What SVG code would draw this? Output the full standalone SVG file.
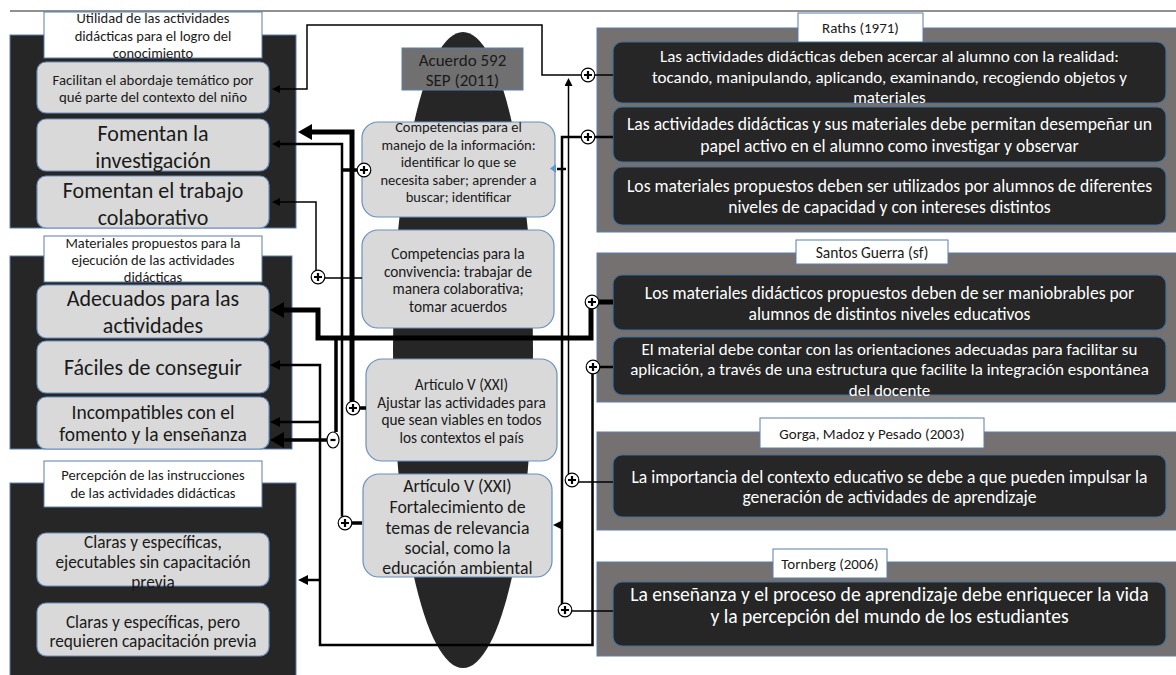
<svg xmlns="http://www.w3.org/2000/svg" width="1176" height="675" viewBox="0 0 1176 675">
  <style>
    text { font-family: Carlito, Lato, "Liberation Sans", sans-serif; text-anchor: middle; fill: #1a1a1a; }
    .panel { fill: #262626; stroke: #5a7fae; stroke-width: 1; }
    .title { fill: #ffffff; stroke: #5a7fae; stroke-width: 1; }
    .node { fill: #d9d9d9; stroke: #6b8fbf; stroke-width: 1.2; }
    .rpanel { fill: #767171; stroke: #5a7fae; stroke-width: 1; }
    .rnode { fill: #262626; stroke: #41719c; stroke-width: 1.2; }
    .rnode-t { fill: #ffffff; }
    .hub { fill: #707070; stroke: #5a7fae; stroke-width: 1; }
    .w1 { fill: none; stroke: #000; stroke-width: 1.5; }
    .w2 { fill: none; stroke: #000; stroke-width: 2.5; }
    .w3 { fill: none; stroke: #000; stroke-width: 3.5; }
    .w5 { fill: none; stroke: #000; stroke-width: 5; }
  </style>
  <defs>
    <marker id="aS" markerUnits="userSpaceOnUse" viewBox="0 0 8 8" markerWidth="8" markerHeight="8" refX="0" refY="4" orient="auto">
      <path d="M0,0 L8,4 L0,8z" fill="#000"/>
    </marker>
    <marker id="aM" markerUnits="userSpaceOnUse" viewBox="0 0 10 10" markerWidth="10" markerHeight="10" refX="0" refY="5" orient="auto">
      <path d="M0,0 L10,5 L0,10z" fill="#000"/>
    </marker>
    <marker id="aL" markerUnits="userSpaceOnUse" viewBox="0 0 14 16" markerWidth="14" markerHeight="16" refX="0" refY="8" orient="auto">
      <path d="M0,0 L14,8 L0,16z" fill="#000"/>
    </marker>
    <!-- positive-influence badge -->
    <g id="plus">
      <circle r="6.8" fill="#ffffff" stroke="#000" stroke-width="1.2"/>
      <path d="M-4,0 H4 M0,-4 V4" stroke="#000" stroke-width="2.2" fill="none"/>
    </g>
    <!-- negative-influence badge -->
    <g id="minus">
      <ellipse rx="6" ry="8" fill="#ffffff" stroke="#000" stroke-width="1.2"/>
      <path d="M-2.5,0 H2.5" stroke="#000" stroke-width="2.2" fill="none"/>
    </g>
  </defs>

  <rect width="1176" height="675" fill="#ffffff"/>
  <line x1="10" y1="11" x2="1176" y2="11" stroke="#222" stroke-width="1"/>

  <!-- central spindle -->
  <ellipse cx="463" cy="350" rx="70" ry="318" fill="#262626"/>

  <!-- left column -->
  <g id="utilidad">
    <rect class="panel" x="10" y="35" width="286" height="193"/>
    <rect class="title" x="44" y="12" width="218" height="46"/>
    <text font-size="14.5"><tspan x="153" y="23">Utilidad de las actividades</tspan><tspan x="153" y="41">didácticas para el logro del</tspan><tspan x="153" y="58">conocimiento</tspan></text>
  </g>
  <g id="facilitan">
    <rect class="node" x="37" y="62" width="232" height="51" rx="9"/>
    <text font-size="14.8"><tspan x="153" y="85">Facilitan el abordaje temático por</tspan><tspan x="153" y="102">qué parte del contexto del niño</tspan></text>
  </g>
  <g id="investigacion">
    <rect class="node" x="37" y="119" width="232" height="52" rx="9"/>
    <text font-size="22"><tspan x="153" y="140.5">Fomentan la</tspan><tspan x="153" y="167.5">investigación</tspan></text>
  </g>
  <g id="colaborativo">
    <rect class="node" x="37" y="176" width="232" height="52" rx="9"/>
    <text font-size="22"><tspan x="153" y="197.5">Fomentan el trabajo</tspan><tspan x="153" y="224.5">colaborativo</tspan></text>
  </g>

  <g id="materiales">
    <rect class="panel" x="10" y="256" width="282" height="193"/>
    <rect class="title" x="44" y="236" width="218" height="46"/>
    <text font-size="14.5"><tspan x="153" y="248">Materiales propuestos para la</tspan><tspan x="153" y="264.5">ejecución de las actividades</tspan><tspan x="153" y="282">didácticas</tspan></text>
  </g>
  <g id="adecuados">
    <rect class="node" x="37" y="285" width="232" height="53" rx="9"/>
    <text font-size="22"><tspan x="153" y="305.5">Adecuados para las</tspan><tspan x="153" y="332.5">actividades</tspan></text>
  </g>
  <g id="faciles">
    <rect class="node" x="37" y="341" width="232" height="52" rx="9"/>
    <text font-size="22"><tspan x="153" y="374.5">Fáciles de conseguir</tspan></text>
  </g>
  <g id="incompatibles">
    <rect class="node" x="37" y="397" width="232" height="52" rx="9"/>
    <text font-size="19.5"><tspan x="153" y="418.5">Incompatibles con el</tspan><tspan x="153" y="440.5">fomento y la enseñanza</tspan></text>
  </g>

  <g id="percepcion">
    <rect class="panel" x="10" y="483" width="286" height="195"/>
    <rect class="title" x="44" y="461" width="218" height="46"/>
    <text font-size="14.5"><tspan x="153" y="480">Percepción de las instrucciones</tspan><tspan x="153" y="498">de las actividades didácticas</tspan></text>
  </g>
  <g id="sin-capacitacion">
    <rect class="node" x="37" y="533" width="232" height="53" rx="9"/>
    <text font-size="17.3"><tspan x="153" y="548">Claras y específicas,</tspan><tspan x="153" y="567.5">ejecutables sin capacitación</tspan><tspan x="153" y="588">previa</tspan></text>
  </g>
  <g id="con-capacitacion">
    <rect class="node" x="37" y="603" width="232" height="53" rx="9"/>
    <text font-size="17.3"><tspan x="153" y="628">Claras y específicas, pero</tspan><tspan x="153" y="647">requieren capacitación previa</tspan></text>
  </g>

  <!-- centre column -->
  <g id="acuerdo">
    <rect class="hub" x="402" y="48" width="121" height="42"/>
    <text font-size="17"><tspan x="462.5" y="66">Acuerdo 592</tspan><tspan x="462.5" y="86">SEP (2011)</tspan></text>
  </g>
  <g id="comp-informacion">
    <rect class="node" x="362" y="122" width="193" height="95" rx="16"/>
    <text font-size="14.5"><tspan x="458.5" y="132">Competencias para el</tspan><tspan x="458.5" y="149.5">manejo de la información:</tspan><tspan x="458.5" y="167">identificar lo que se</tspan><tspan x="458.5" y="184.5">necesita saber; aprender a</tspan><tspan x="458.5" y="202">buscar; identificar</tspan></text>
  </g>
  <g id="comp-convivencia">
    <rect class="node" x="362" y="230" width="192" height="98" rx="16"/>
    <text font-size="15.3"><tspan x="458" y="258.5">Competencias para la</tspan><tspan x="458" y="276.5">convivencia: trabajar de</tspan><tspan x="458" y="293.5">manera colaborativa;</tspan><tspan x="458" y="311.5">tomar acuerdos</tspan></text>
  </g>
  <g id="articulo-ajustar">
    <rect class="node" x="366" y="359" width="191" height="102" rx="16"/>
    <text font-size="15.3"><tspan x="461.5" y="389.5">Artículo V (XXI)</tspan><tspan x="461.5" y="407.5">Ajustar las actividades para</tspan><tspan x="461.5" y="424.5">que sean viables en todos</tspan><tspan x="461.5" y="442.5">los contextos el país</tspan></text>
  </g>
  <g id="articulo-fortalecimiento">
    <rect class="node" x="363" y="474" width="189" height="103" rx="16"/>
    <text font-size="17.8"><tspan x="457.5" y="491.5">Artículo V (XXI)</tspan><tspan x="457.5" y="512.5">Fortalecimiento de</tspan><tspan x="457.5" y="533.5">temas de relevancia</tspan><tspan x="457.5" y="553.5">social, como la</tspan><tspan x="457.5" y="573.5">educación ambiental</tspan></text>
  </g>

  <!-- right column -->
  <g id="raths">
    <rect class="rpanel" x="597" y="28" width="580" height="204"/>
    <rect class="title" x="798" y="13" width="125" height="30"/>
    <text font-size="15"><tspan x="860.5" y="32.5">Raths (1971)</tspan></text>
  </g>
  <g id="raths-realidad">
    <rect class="rnode" x="613" y="42" width="553" height="61" rx="9"/>
    <text class="rnode-t" font-size="17"><tspan x="889.5" y="62">Las actividades didácticas deben acercar al alumno con la realidad:</tspan><tspan x="889.5" y="82.5">tocando, manipulando, aplicando, examinando, recogiendo objetos y</tspan><tspan x="889.5" y="103">materiales</tspan></text>
  </g>
  <g id="raths-activo">
    <rect class="rnode" x="613" y="107" width="553" height="55" rx="9"/>
    <text class="rnode-t" font-size="17.6"><tspan x="889.5" y="130">Las actividades didácticas y sus materiales debe permitan desempeñar un</tspan><tspan x="889.5" y="152">papel activo en el alumno como investigar y observar</tspan></text>
  </g>
  <g id="raths-niveles">
    <rect class="rnode" x="613" y="167" width="553" height="58" rx="9"/>
    <text class="rnode-t" font-size="17.6"><tspan x="889.5" y="192">Los materiales propuestos deben  ser utilizados por alumnos de diferentes</tspan><tspan x="889.5" y="213">niveles de capacidad y con intereses distintos</tspan></text>
  </g>

  <g id="santos">
    <rect class="rpanel" x="597" y="253" width="580" height="149"/>
    <rect class="title" x="796" y="240" width="152" height="24"/>
    <text font-size="15.5"><tspan x="872" y="257.5">Santos Guerra (sf)</tspan></text>
  </g>
  <g id="santos-maniobrables">
    <rect class="rnode" x="613" y="275" width="553" height="55" rx="9"/>
    <text class="rnode-t" font-size="17.6"><tspan x="889.5" y="298.5">Los materiales didácticos propuestos deben de ser maniobrables por</tspan><tspan x="889.5" y="319.5">alumnos de distintos niveles educativos</tspan></text>
  </g>
  <g id="santos-orientaciones">
    <rect class="rnode" x="613" y="337" width="553" height="58" rx="9"/>
    <text class="rnode-t" font-size="17"><tspan x="889.5" y="354.5">El material debe contar con las orientaciones adecuadas para facilitar su</tspan><tspan x="889.5" y="375">aplicación, a través de una estructura que facilite la integración espontánea</tspan><tspan x="889.5" y="395.5">del docente</tspan></text>
  </g>

  <g id="gorga">
    <rect class="rpanel" x="597" y="432" width="580" height="98"/>
    <rect class="title" x="760" y="418" width="224" height="30"/>
    <text font-size="15"><tspan x="872" y="438.5">Gorga, Madoz y Pesado (2003)</tspan></text>
  </g>
  <g id="gorga-contexto">
    <rect class="rnode" x="613" y="455" width="553" height="62" rx="9"/>
    <text class="rnode-t" font-size="17.6"><tspan x="889.5" y="482.5">La importancia del contexto educativo se debe a  que  pueden impulsar la</tspan><tspan x="889.5" y="502.5">generación de actividades de aprendizaje</tspan></text>
  </g>

  <g id="tornberg">
    <rect class="rpanel" x="597" y="562" width="580" height="94"/>
    <rect class="title" x="773" y="549" width="114" height="29"/>
    <text font-size="15"><tspan x="830" y="568.5">Tornberg (2006)</tspan></text>
  </g>
  <g id="tornberg-vida">
    <rect class="rnode" x="613" y="582" width="553" height="64" rx="9"/>
    <text class="rnode-t" font-size="19.6"><tspan x="889.5" y="601">La enseñanza y el proceso de aprendizaje debe enriquecer la vida</tspan><tspan x="889.5" y="623">y la percepción del mundo de los estudiantes</tspan></text>
  </g>

  <!-- connectors -->
  <g id="connectors">
    <!-- Raths (realidad) to Facilitan -->
    <path class="w1" d="M613,75 H594 M582,75 H542 V25 H307 V89 H280" marker-end="url(#aS)"/>
    <!-- Gorga up to the top link -->
    <path class="w1" d="M613,482 H578 M568.5,474 V86" marker-end="url(#aS)"/>
    <!-- Raths (activo) down the right rail to C1 and C4; Tornberg joins -->
    <path class="w2" d="M613,137 H594 M582,137 H562 V604"/>
    <path class="w1" d="M613,611 H571"/>
    <path class="w2" d="M557,169 H566"/>
    <path d="M556,164 L550,168.5 L556,173z" fill="#5b9bd5"/>
    <path class="w1" d="M562,525 H561" marker-end="url(#aS)"/>
    <!-- C1 and C4 to Fomentan la investigación -->
    <path class="w3" d="M357.5,170 H342"/>
    <path class="w2" d="M342,516.5 V144 H280" marker-end="url(#aS)"/>
    <path class="w3" d="M351.5,523 H362"/>
    <!-- C2 to Fomentan el trabajo colaborativo -->
    <path class="w1" d="M362,278 H324.5 M316,271 V202 H280" marker-end="url(#aS)"/>
    <!-- C3 to the first panel -->
    <path class="w3" d="M359.5,408 H366"/>
    <path class="w5" d="M352,401.5 V132 H312" marker-end="url(#aL)"/>
    <!-- Santos (maniobrables) to Adecuados, and negative link to Incompatibles -->
    <path class="w5" d="M613,302 H598.5 M591,308 V338 H318 V310 H284" marker-end="url(#aL)"/>
    <path class="w3" d="M336,338 V432"/>
    <path class="w3" d="M327,440 H284" marker-end="url(#aL)"/>
    <!-- Santos (orientaciones) to Fáciles, Incompatibles and Percepción -->
    <path class="w2" d="M613,367 H599.5 M592.5,373.5 V645 H320 V365 H280" marker-end="url(#aM)"/>
    <path class="w2" d="M320,422 H280" marker-end="url(#aM)"/>
    <path class="w2" d="M320,580 H308" marker-end="url(#aM)"/>

    <!-- signs -->
    <use href="#plus" x="588" y="75"/>
    <use href="#plus" x="588" y="137"/>
    <use href="#plus" x="364" y="170"/>
    <use href="#plus" x="318" y="277"/>
    <use href="#plus" x="592" y="302"/>
    <use href="#plus" x="593" y="367"/>
    <use href="#plus" x="353" y="408"/>
    <use href="#plus" x="572" y="480"/>
    <use href="#plus" x="345" y="523"/>
    <use href="#plus" x="565" y="610"/>
    <use href="#minus" x="333" y="440"/>
  </g>
</svg>
